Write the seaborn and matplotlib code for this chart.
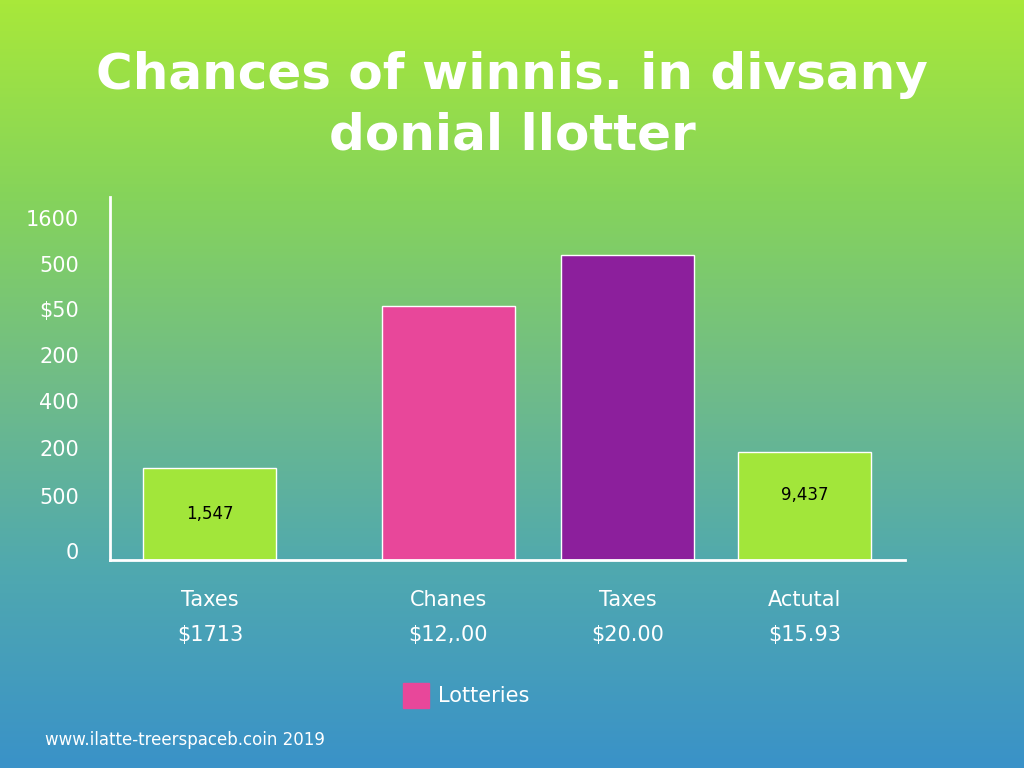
import numpy as np
import pandas as pd
import matplotlib
matplotlib.use("Agg")
import matplotlib.pyplot as plt
import seaborn as sns
from matplotlib.colors import LinearSegmentedColormap

categories = ["Taxes\n$1713", "Chanes\n$12,.00", "Taxes\n$20.00", "Actutal\n$15.93"]
positions = [0.0, 1.33, 2.33, 3.32]
values = [430, 1190, 1425, 505]
bar_colors = ["#a2e63a", "#e8479a", "#8c1f9c", "#a2e63a"]
bar_texts = ["1,547", "", "", "9,437"]
ytick_pos = [1600, 1385, 1175, 960, 745, 525, 300, 40]
ytick_labels = ["1600", "500", "$50", "200", "400", "200", "500", "0"]

sns.set_theme(style="white")
plt.rcParams['font.family'] = ['DejaVu Sans']
fig = plt.figure(figsize=(10.24, 7.68), dpi=100)

bg = fig.add_axes([0, 0, 1, 1], zorder=0)
cmap = LinearSegmentedColormap.from_list("g", ["#a8e83a", "#86d45a", "#70bc88", "#4fa8b0", "#3a92c8"])
bg.imshow(np.linspace(0, 1, 256).reshape(-1, 1), aspect="auto", cmap=cmap, extent=[0, 1, 0, 1])
bg.axis("off")

ax = fig.add_axes([0.107, 0.271, 0.777, 0.472], zorder=1)
ax.patch.set_alpha(0)
df = pd.DataFrame({"x": positions, "v": values, "c": categories})
sns.barplot(data=df, x="x", y="v", hue="c", palette=bar_colors, native_scale=True,
            width=0.75, legend=False, ax=ax, saturation=1)
ax.set_xlim(-0.56, 3.88)
ax.set_ylim(0, 1697)
ax.set_xticks(positions)
ax.set_xticklabels(categories, color="white", fontsize=15, linespacing=1.9)
ax.tick_params(axis="x", pad=22, length=0)
ax.set_yticks(ytick_pos)
ax.set_yticklabels(ytick_labels, color="white", fontsize=15)
ax.tick_params(axis="y", length=0, pad=22)
ax.set_xlabel(""); ax.set_ylabel("")
for s in ["top", "right"]:
    ax.spines[s].set_visible(False)
for s in ["left", "bottom"]:
    ax.spines[s].set_color("white"); ax.spines[s].set_linewidth(2)
for p, v, t in zip(positions, values, bar_texts):
    if t:
        ax.text(p, v * 0.5 if v < 480 else v * 0.6, t, ha="center", va="center", fontsize=12, color="black")

fig.text(0.5, 0.902, "Chances of winnis. in divsany", ha="center", va="center",
         fontsize=36, fontweight="bold", color="white")
fig.text(0.5, 0.824, "donial llotter", ha="center", va="center",
         fontsize=36, fontweight="bold", color="white")
fig.patches.append(plt.Rectangle((0.394, 0.078), 0.025, 0.033, transform=fig.transFigure,
                                 color="#e8479a", zorder=3))
fig.text(0.428, 0.094, "Lotteries", va="center", fontsize=15, color="white")
fig.text(0.044, 0.036, "www.ilatte-treerspaceb.coin 2019", va="center", fontsize=12, color="white")

fig.savefig("out.png", dpi=100)
